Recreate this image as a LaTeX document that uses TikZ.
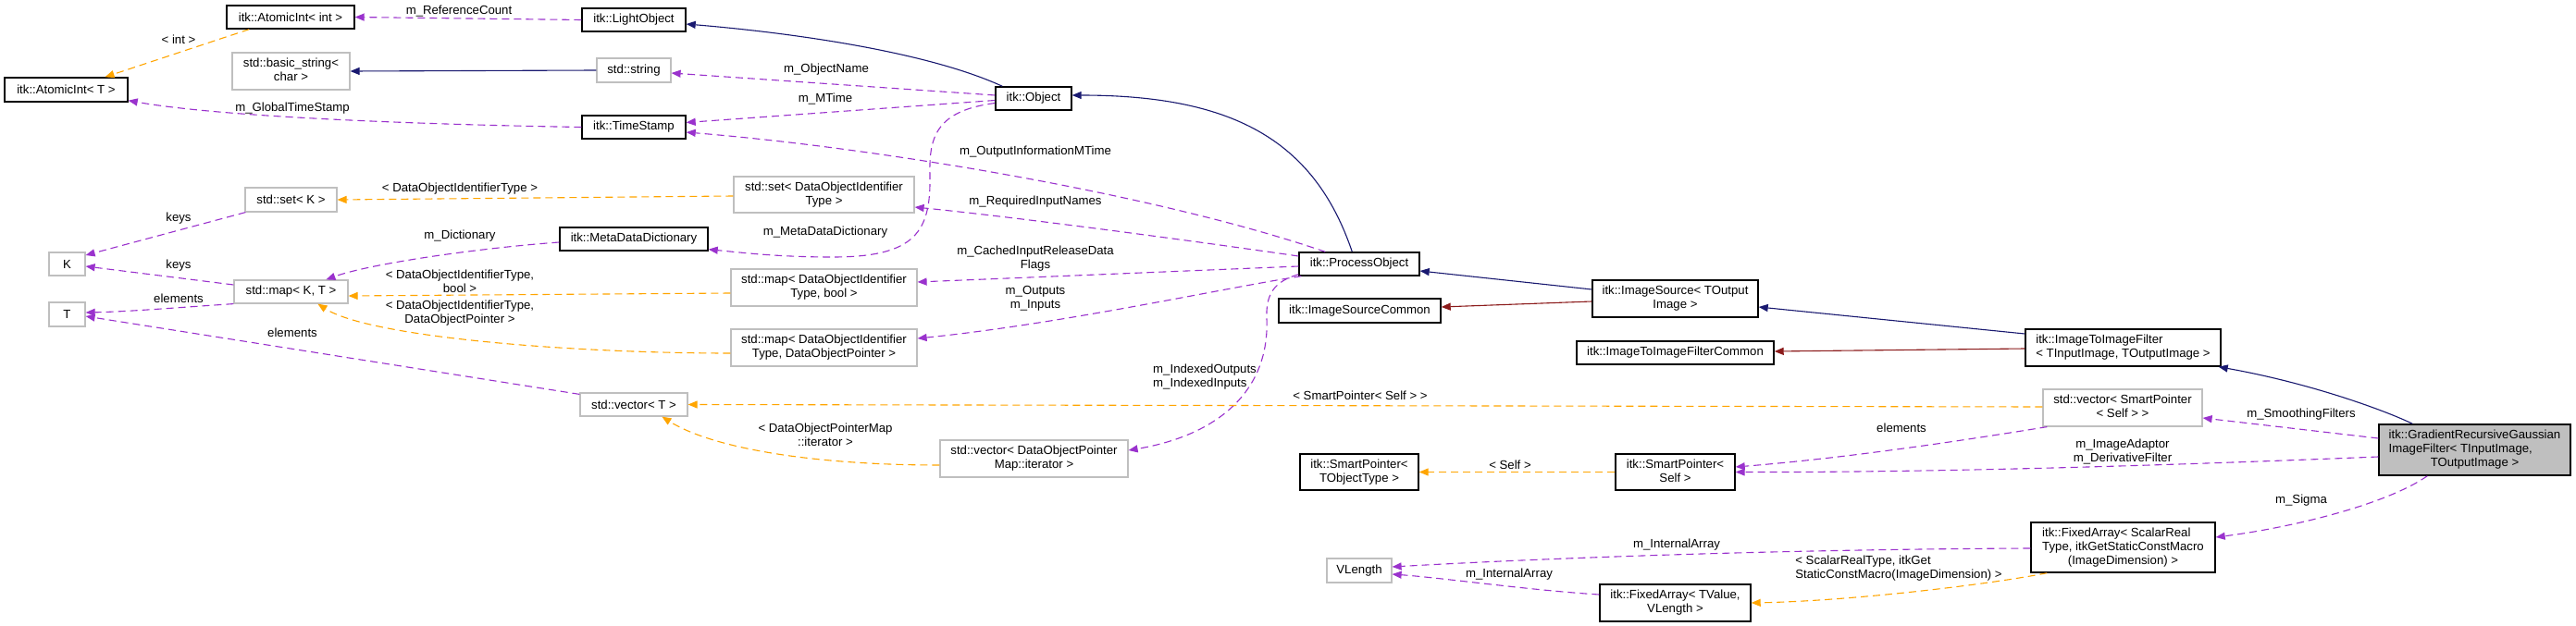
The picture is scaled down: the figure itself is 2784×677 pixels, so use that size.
\documentclass[tikz,border=0pt]{standalone}
\usepackage{fontspec}
\setmainfont{Liberation Sans}
\usetikzlibrary{arrows.meta,calc}
\definecolor{purp}{RGB}{154,50,205}
\definecolor{orng}{RGB}{255,165,0}
\definecolor{navyb}{RGB}{25,25,112}
\definecolor{dred}{RGB}{139,26,26}
\definecolor{gbord}{RGB}{191,191,191}
\newcommand\dxfont{\fontsize{13.2}{15}\selectfont}
\newcommand\mlc[2]{\begin{tabular}{@{}l@{}}#1\\\multicolumn{1}{@{}c@{}}{#2}\end{tabular}}
\tikzset{
  cls/.style={draw=black, line width=1.4pt, inner sep=0pt, font=\dxfont, fill=white},
  ext/.style={draw=gbord, line width=1.2pt, inner sep=0pt, font=\dxfont, fill=white},
  cur/.style={draw=black, line width=1.4pt, inner sep=0pt, font=\dxfont, fill=gbord},
  lbl/.style={inner sep=0pt, font=\dxfont, align=center},
  tip/.style={-{Triangle[length=10pt,width=8pt]}},
  mem/.style={draw=purp, line width=1.1pt, dash pattern=on 8pt off 5pt, tip},
  tmpl/.style={draw=orng, line width=1.1pt, dash pattern=on 8pt off 5pt, tip},
  inh/.style={draw=navyb, line width=1.1pt, tip},
  priv/.style={draw=dred, line width=1.1pt, tip}
}
\begin{document}
\begin{tikzpicture}[x=1pt,y=-1pt]
\fill[white] (0,0) rectangle (2784,677);
\useasboundingbox (0,0) rectangle (2784,677);

% nodes
\node[cls, minimum width=138pt, minimum height=25pt] (ai_int) at (314,18.5) {itk::AtomicInt< int >};
\node[cls, minimum width=133pt, minimum height=26pt] (ai_T) at (71.5,97) {itk::AtomicInt< T >};
\node[ext, minimum width=127pt, minimum height=40pt] (bstr) at (314.5,77) {\mlc{std::basic\_string<}{char >}};
\node[ext, minimum width=99pt, minimum height=26pt] (setK) at (314.5,216) {std::set< K >};
\node[ext, minimum width=39pt, minimum height=25pt] (K) at (72.5,285.5) {K};
\node[ext, minimum width=123pt, minimum height=25pt] (mapKT) at (314.5,315.5) {std::map< K, T >};
\node[ext, minimum width=39pt, minimum height=26pt] (T) at (72.5,340) {T};
\node[cls, minimum width=112pt, minimum height=25pt] (light) at (685,21.5) {itk::LightObject};
\node[ext, minimum width=80pt, minimum height=26pt] (str) at (685,76) {std::string};
\node[cls, minimum width=112pt, minimum height=25pt] (ts) at (685,137.5) {itk::TimeStamp};
\node[cls, minimum width=160pt, minimum height=25pt] (mdd) at (685,258.5) {itk::MetaDataDictionary};
\node[ext, minimum width=116pt, minimum height=25pt] (vecT) at (685,437.5) {std::vector< T >};
\node[cls, minimum width=82pt, minimum height=25pt] (obj) at (1117,106.5) {itk::Object};
\node[ext, minimum width=195pt, minimum height=39pt] (setD) at (890.5,210.5) {\mlc{std::set< DataObjectIdentifier}{Type >}};
\node[ext, minimum width=201pt, minimum height=40pt] (mapDb) at (890.5,311) {\mlc{std::map< DataObjectIdentifier}{Type, bool >}};
\node[ext, minimum width=201pt, minimum height=40pt] (mapDP) at (890.5,376) {\mlc{std::map< DataObjectIdentifier}{Type, DataObjectPointer >}};
\node[ext, minimum width=203pt, minimum height=40pt] (vecDP) at (1117.5,496) {\mlc{std::vector< DataObjectPointer}{Map::iterator >}};
\node[cls, minimum width=130pt, minimum height=25pt] (po) at (1469,285.5) {itk::ProcessObject};
\node[cls, minimum width=175pt, minimum height=26pt] (isc) at (1469.5,336) {itk::ImageSourceCommon};
\node[cls, minimum width=179pt, minimum height=40pt] (is) at (1810.5,323) {\mlc{itk::ImageSource< TOutput}{Image >}};
\node[cls, minimum width=213pt, minimum height=25pt] (itic) at (1810.5,381.5) {itk::ImageToImageFilterCommon};
\node[cls, minimum width=211pt, minimum height=40pt] (iti) at (2294.5,376) {\mlc{itk::ImageToImageFilter}{< TInputImage, TOutputImage >}};
\node[ext, minimum width=172pt, minimum height=40pt] (vecSP) at (2294,441) {\mlc{std::vector< SmartPointer}{< Self > >}};
\node[cur, minimum width=207pt, minimum height=55pt] (grad) at (2674.5,486.5) {\mlc{itk::GradientRecursiveGaussian\\ImageFilter< TInputImage,}{TOutputImage >}};
\node[cls, minimum width=199pt, minimum height=54pt] (faS) at (2294.5,592) {\mlc{itk::FixedArray< ScalarReal\\Type, itkGetStaticConstMacro}{(ImageDimension) >}};
\node[cls, minimum width=128pt, minimum height=39pt] (spT) at (1469,510.5) {\mlc{itk::SmartPointer<}{TObjectType >}};
\node[cls, minimum width=129pt, minimum height=39pt] (spS) at (1810.5,510.5) {\mlc{itk::SmartPointer<}{Self >}};
\node[ext, minimum width=70pt, minimum height=26pt] (vlen) at (1469,617) {VLength};
\node[cls, minimum width=163pt, minimum height=40pt] (faV) at (1810.5,652) {\mlc{itk::FixedArray< TValue,}{VLength >}};

% edges
\draw[mem] (light.west) -- (ai_int.east);
\draw[tmpl] ([xshift=25pt]ai_int.south west) -- ([xshift=42pt]ai_T.north);
\draw[inh] (str.west) -- (bstr.east);
\draw[mem] (ts.west) .. controls (420,134) and (230,125) .. ([yshift=2pt]ai_T.south east);
\draw[inh] ([xshift=8pt]obj.north west) .. controls (1000,55) and (850,35) .. ([yshift=-4.5pt]light.east);
\draw[mem] ([yshift=3.5pt]obj.west) -- ([yshift=-3pt]str.east);
\draw[mem] ([yshift=-2pt]obj.west) -- ([yshift=5pt]ts.east);
\draw[mem] ([xshift=29pt]po.north west) .. controls (1250,210) and (950,160) .. ([yshift=-5.5pt]ts.east);
\draw[mem] ([yshift=8.5pt]po.west) .. controls (1300,262) and (1100,235) .. ([yshift=-13.5pt]setD.east);
\draw[mem] ([yshift=-5pt]obj.west) .. controls (1010,120) and (1004,150) .. (1005,190) .. controls (1006,250) and (990,278) .. (900,278) .. controls (840,278) and (800,273) .. ([yshift=2pt]mdd.south east);
\draw[mem] ([yshift=-2.5pt]po.west) -- ([yshift=6pt]mapDb.east);
\draw[mem] ([xshift=3pt]po.south west) .. controls (1330,310) and (1150,350) .. ([yshift=10pt]mapDP.east);
\draw[mem] ([yshift=2pt]po.south west) .. controls (1375,305) and (1368,320) .. (1369,345) .. controls (1372,420) and (1320,470) .. ([yshift=9pt]vecDP.east);
\draw[inh] ([xshift=58pt]po.north west) .. controls (1420,150) and (1330,103) .. ([yshift=3.5pt]obj.east);
\draw[inh] ([yshift=10pt]is.west) -- ([yshift=-7.5pt]po.east);
\draw[priv] ([yshift=-3pt]is.west) -- ([yshift=4pt]isc.east);
\draw[inh] ([yshift=15pt]iti.west) -- ([yshift=-9pt]is.east);
\draw[priv] ([yshift=-1pt]iti.west) -- ([yshift=1.5pt]itic.east);
\draw[inh] ([xshift=37pt]grad.north west) .. controls (2580,445) and (2500,415) .. ([xshift=-3pt]iti.south east);
\draw[mem] ([yshift=12.5pt]grad.west) -- ([yshift=-11pt]vecSP.east);
\draw[mem] ([yshift=-7.5pt]grad.west) .. controls (2350,503) and (2100,511) .. (spS.east);
\draw[mem] ([xshift=5pt]vecSP.south west) .. controls (2130,475) and (2000,495) .. ([yshift=5.5pt]spS.east);
\draw[tmpl] ([yshift=1pt]vecSP.west) -- (vecT.east);
\draw[tmpl] (spS.west) -- (spT.east);
\draw[mem] ([xshift=53pt]grad.south west) .. controls (2580,545) and (2480,570) .. ([yshift=11pt]faS.east);
\draw[mem] ([yshift=-1pt]faS.west) .. controls (1950,594) and (1700,602) .. ([yshift=4pt]vlen.east);
\draw[mem] ([yshift=9pt]faV.west) .. controls (1650,638) and (1560,625) .. ([yshift=-4pt]vlen.east);
\draw[tmpl] ([xshift=18pt]faS.south west) .. controls (2150,632) and (2000,650) .. (faV.east);
\draw[mem] ([yshift=-2pt]vecT.north west) -- ([yshift=-2pt]T.east);
\draw[mem] ([yshift=7.5pt]mapKT.west) -- ([yshift=-2.5pt]K.east);
\draw[mem] (mapKT.south west) .. controls (200,332) and (140,337) .. ([yshift=2pt]T.east);
\draw[mem] ([xshift=1pt]setK.south west) -- ([yshift=9.5pt]K.east);
\draw[mem] ([yshift=-3.5pt]mdd.west) .. controls (520,268) and (400,285) .. ([xshift=100pt]mapKT.north west);
\draw[tmpl] ([yshift=-1.5pt]setD.west) -- (setK.east);
\draw[tmpl] ([yshift=-6pt]mapDb.west) -- ([yshift=-4.5pt]mapKT.east);
\draw[tmpl] ([yshift=-6pt]mapDP.west) .. controls (620,382) and (400,365) .. ([xshift=91pt]mapKT.south west);
\draw[tmpl] ([yshift=-7pt]vecDP.west) .. controls (880,503) and (770,485) .. ([xshift=89pt]vecT.south west);

% labels
\node[lbl] (l1) at (496,12) {m\_ReferenceCount};
\node[lbl] (l2) at (193,43) {< int >};
\node[lbl] (l3) at (316,117) {m\_GlobalTimeStamp};
\node[lbl] (l4) at (893,75) {m\_ObjectName};
\node[lbl] (l5) at (892,107) {m\_MTime};
\node[lbl] (l6) at (1119,164) {m\_OutputInformationMTime};
\node[lbl] (l7) at (1119,218) {m\_RequiredInputNames};
\node[lbl] (l8) at (892,251) {m\_MetaDataDictionary};
\node[lbl] (l9) at (1119,280) {m\_CachedInputReleaseData\\Flags};
\node[lbl] (l10) at (1119,323) {m\_Outputs\\m\_Inputs};
\node[lbl, align=left] (l11) at (1302,408) {m\_IndexedOutputs\\m\_IndexedInputs};
\node[lbl] (l12) at (2294,489) {m\_ImageAdaptor\\m\_DerivativeFilter};
\node[lbl] (l13) at (2487,448) {m\_SmoothingFilters};
\node[lbl] (l14) at (2055,463) {elements};
\node[lbl] (l15) at (1470,428) {< SmartPointer< Self > >};
\node[lbl] (l16) at (1632,503) {< Self >};
\node[lbl] (l17) at (2487,541) {m\_Sigma};
\node[lbl] (l18) at (1812,589) {m\_InternalArray};
\node[lbl] (l19) at (1631,621) {m\_InternalArray};
\node[lbl, align=left] (l20) at (2052,615) {< ScalarRealType, itkGet\\StaticConstMacro(ImageDimension) >};
\node[lbl] (l21) at (497,204) {< DataObjectIdentifierType >};
\node[lbl] (l22) at (497,304) {< DataObjectIdentifierType,\\bool >};
\node[lbl] (l23) at (497,339) {< DataObjectIdentifierType,\\DataObjectPointer >};
\node[lbl] (l24) at (892,470) {< DataObjectPointerMap\\::iterator >};
\node[lbl] (l25) at (193,236) {keys};
\node[lbl] (l26) at (193,287) {keys};
\node[lbl] (l27) at (193,323) {elements};
\node[lbl] (l28) at (316,360) {elements};
\node[lbl] (l29) at (497,255) {m\_Dictionary};
\end{tikzpicture}
\end{document}
